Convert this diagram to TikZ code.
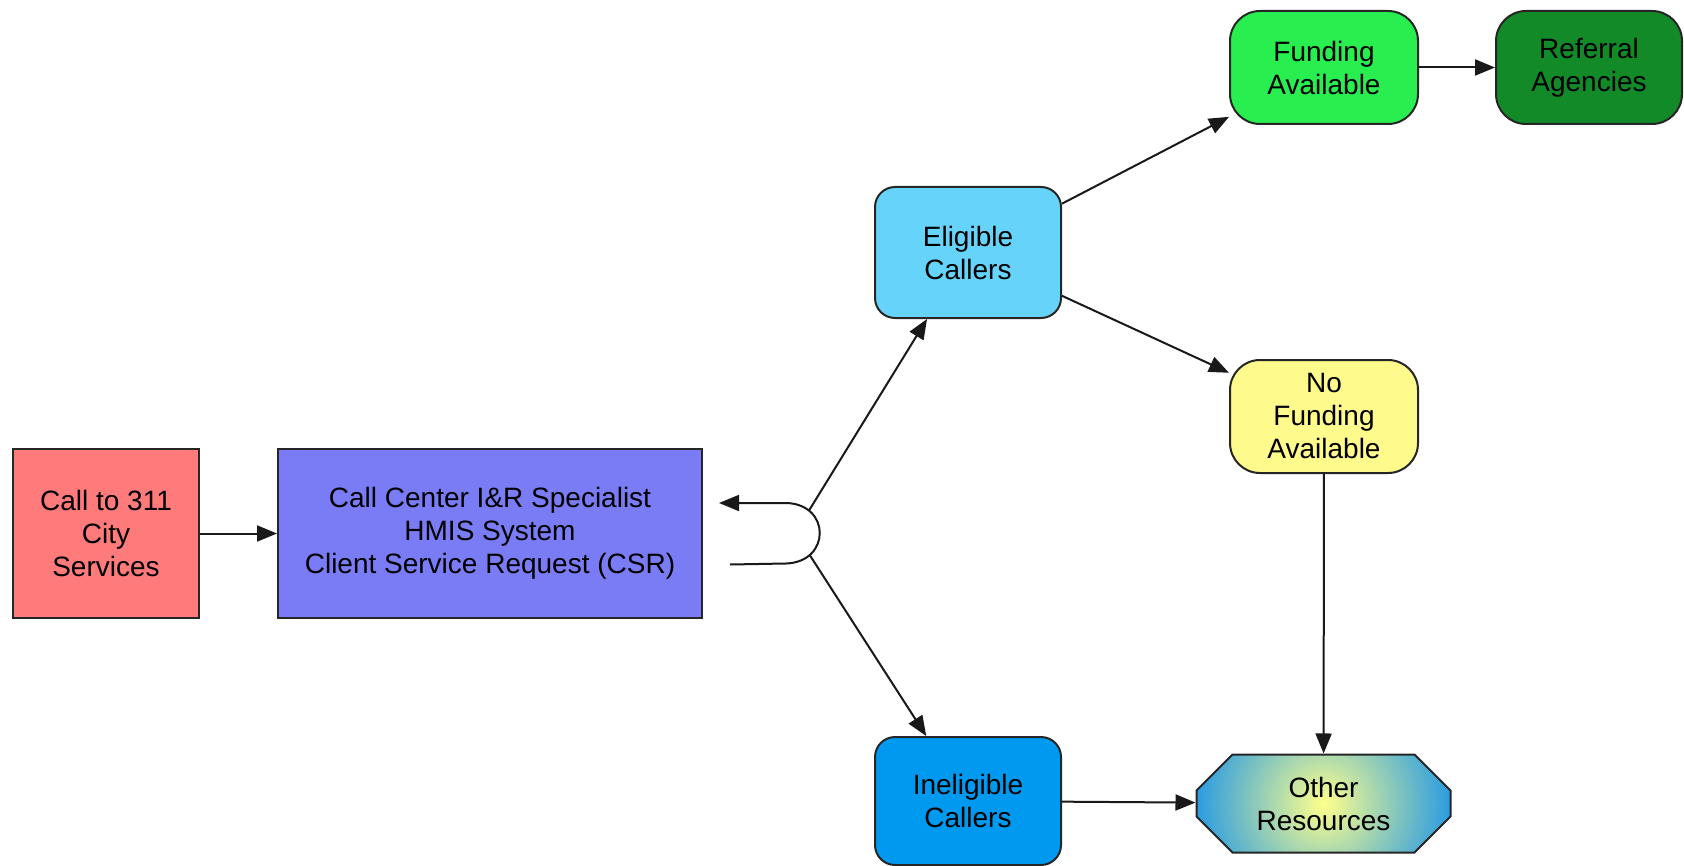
\documentclass[tikz,border=0pt]{standalone}
\usepackage{fontspec}
\setmainfont{Liberation Sans}
\usetikzlibrary{arrows.meta,shapes.misc}

\definecolor{callred}{RGB}{255,122,122}
\definecolor{csrblue}{RGB}{122,124,246}
\definecolor{eligblue}{RGB}{102,212,250}
\definecolor{ineligblue}{RGB}{0,153,240}
\definecolor{fundgreen}{RGB}{40,238,80}
\definecolor{refgreen}{RGB}{18,138,40}
\definecolor{nofundyellow}{RGB}{255,250,140}
\definecolor{otherinner}{RGB}{255,255,140}
\definecolor{otherouter}{RGB}{30,150,230}

\begin{document}
\begin{tikzpicture}[x=0.5pt,y=-0.5pt,
  box/.style={draw=black!85, line width=1pt, align=center,
              font=\fontsize{14}{16.5}\selectfont, inner sep=0pt},
  squarebox/.style={box, minimum width=93pt, minimum height=84.5pt},
  roundbox/.style={box, rounded corners=10pt, minimum width=93pt, minimum height=65.5pt},
  pillbox/.style={box, rounded corners=15pt, minimum width=94pt, minimum height=56.5pt},
  conn/.style={line width=1pt, draw=black!90, -{Triangle[length=10pt,width=8pt]}},
]
\useasboundingbox (0,0) rectangle (1684,866);

% boxes
\node[squarebox, fill=callred] (call) at (106,533.5) {Call to 311\\City\\Services};
\node[squarebox, fill=csrblue, minimum width=212pt] (csr) at (490,533.5)
  {Call Center I\&R Specialist\\HMIS System\\Client Service Request (CSR)};
\node[roundbox, fill=eligblue] (elig) at (968,252.5) {Eligible\\Callers};
\node[roundbox, fill=ineligblue, minimum height=64pt] (inelig) at (968,801) {Ineligible\\Callers};
\node[pillbox, fill=fundgreen] (fund) at (1324,67.5) {Funding\\Available};
\node[pillbox, fill=refgreen, minimum width=93pt] (ref) at (1589,67.5) {Referral\\Agencies};
\node[pillbox, fill=nofundyellow] (nofund) at (1324,416.5) {No\\Funding\\Available};
\node[box, chamfered rectangle, chamfered rectangle xsep=9pt, chamfered rectangle ysep=9pt,
      fill=otherouter,
      path picture={\shade[inner color=otherinner, outer color=otherouter]
        ([shift={(-135,-135)}]path picture bounding box.center) rectangle
        ([shift={(135,135)}]path picture bounding box.center);},
      minimum width=127pt, minimum height=49pt] (other) at (1323.5,803.5) {Other\\Resources};

% return loop on the right of the request box and its two branch points
\coordinate (loopin)  at ([shift={(27,31)}]csr.east);
\coordinate (looptip) at ([shift={(16,-30.5)}]csr.east);
\coordinate (jtop)    at ([shift={(106,-23)}]csr.east);
\coordinate (jbot)    at ([shift={(107,22)}]csr.east);

% connectors
\draw[conn] (call) -- (csr);
\draw[conn] (loopin) -- ++(56,-1) .. controls +(45,-1.5) and +(45,1) ..
  ([shift={(83,-30.5)}]csr.east) -- (looptip);
\draw[conn] (jtop) -- (elig);
\draw[conn] (jbot) -- (inelig);
\draw[conn] (elig) -- (fund);
\draw[conn] (elig) -- (nofund);
\draw[conn] (fund) -- (ref);
\draw[conn] (nofund) -- (other);
\draw[conn] (inelig) -- (other);
\end{tikzpicture}
\end{document}
